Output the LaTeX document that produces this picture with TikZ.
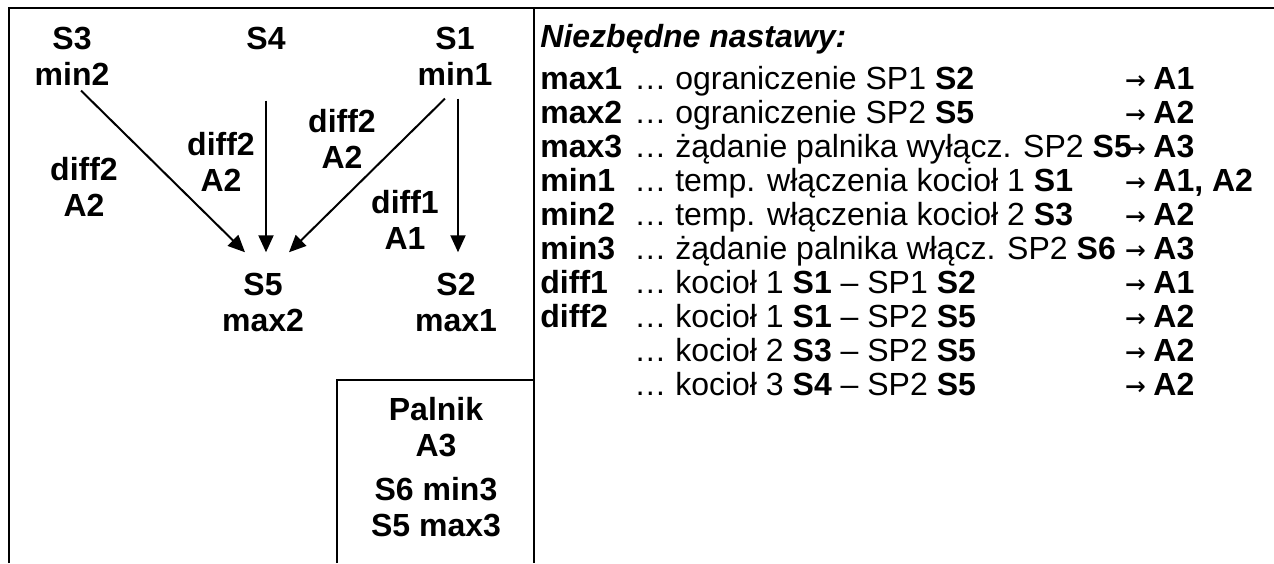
\documentclass[tikz,border=0pt]{standalone}
\usepackage{fontspec}
\setmainfont{Liberation Sans}
\newfontfamily\arrfont{DejaVu Sans Mono}
\usetikzlibrary{arrows.meta}
\newcommand{\sz}{\fontsize{16}{18}\selectfont}
\newcommand{\toA}[1]{\hspace{-1.5pt}\makebox[14pt][l]{\raisebox{-0.5pt}{\arrfont\fontsize{17}{17}\selectfont →}}\textbf{#1}}
\newcommand{\nrow}[3]{\makebox[47pt][l]{\textbf{#1}}\makebox[247pt][l]{… #2}\toA{#3}}
\tikzset{
  sensor/.style={align=center, font=\sz\bfseries, inner sep=2pt},
  tag/.style={align=center, font=\sz\bfseries, inner sep=2pt},
  rowtext/.style={anchor=base west, font=\sz, inner sep=0pt},
  frame/.style={line width=1pt},
  arr/.style={-{Triangle[length=8.5pt,width=7.5pt]}, line width=1pt},
}
\begin{document}
\begin{tikzpicture}[x=0.5pt, y=-0.5pt]
\useasboundingbox (0,0) rectangle (1274,563);
% frame
\draw[frame] (9,563) -- (9,8) -- (1274,8);
\draw[frame] (534,8) -- (534,563);
\draw[frame] (337,563) -- (337,380) -- (534,380);
% sensors
\node[sensor] (s3) at (72,56) {S3\\min2};
\node[sensor] (s4) at (266,38) {S4};
\node[sensor] (s1) at (455,56) {S1\\min1};
\node[sensor] (s5) at (263,302) {S5\\max2};
\node[sensor] (s2) at (456,302) {S2\\max1};
\node[sensor] (palnik) at (436,467) {Palnik\\A3\\[4pt]S6 min3\\S5 max3};
% labels
\node[tag] (t3) at (84,187) {diff2\\A2};
\node[tag] (t4) at (221,162) {diff2\\A2};
\node[tag] (t1) at (342,139) {diff2\\A2};
\node[tag] (t12) at (405,220) {diff1\\A1};
% arrows
\draw[arr] ([xshift=4.5pt,yshift=-0.5pt]s3.south) -- ([xshift=-9pt,yshift=8pt]s5.north);
\draw[arr] ([yshift=-23.5pt]s4.south) -- ([xshift=1.5pt,yshift=8pt]s5.north);
\draw[arr] ([xshift=-5pt,yshift=-4.5pt]s1.south) -- ([xshift=13pt,yshift=8pt]s5.north);
\draw[arr] ([xshift=1.5pt,yshift=-4.5pt]s1.south) -- ([xshift=1pt,yshift=8pt]s2.north);
% settings list
\node[rowtext, font=\sz\bfseries\itshape] (title) at (540,47) {Niezbędne nastawy:};
\node[rowtext] (r1) at (540,89) {\nrow{max1}{ograniczenie SP1 \textbf{S2}}{A1}};
\node[rowtext] (r2) at (540,123) {\nrow{max2}{ograniczenie SP2 \textbf{S5}}{A2}};
\node[rowtext] (r3) at (540,157) {\nrow{max3}{żądanie palnika wyłącz. SP2 \textbf{S5}}{A3}};
\node[rowtext] (r4) at (540,191) {\nrow{min1}{temp. włączenia kocioł 1 \textbf{S1}}{A1, A2}};
\node[rowtext] (r5) at (540,225) {\nrow{min2}{temp. włączenia kocioł 2 \textbf{S3}}{A2}};
\node[rowtext] (r6) at (540,259) {\nrow{min3}{żądanie palnika włącz. SP2 \textbf{S6}}{A3}};
\node[rowtext] (r7) at (540,293) {\nrow{diff1}{kocioł 1 \textbf{S1} – SP1 \textbf{S2}}{A1}};
\node[rowtext] (r8) at (540,327) {\nrow{diff2}{kocioł 1 \textbf{S1} – SP2 \textbf{S5}}{A2}};
\node[rowtext] (r9) at (540,361) {\nrow{}{kocioł 2 \textbf{S3} – SP2 \textbf{S5}}{A2}};
\node[rowtext] (r10) at (540,395) {\nrow{}{kocioł 3 \textbf{S4} – SP2 \textbf{S5}}{A2}};
\end{tikzpicture}
\end{document}
